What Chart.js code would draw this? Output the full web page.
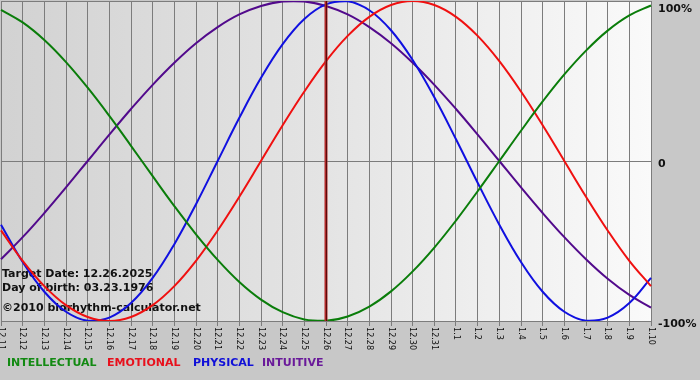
<!DOCTYPE html>
<html>
<head>
<meta charset="utf-8">
<script src="https://cdn.jsdelivr.net/npm/chart.js@4.4.1/dist/chart.umd.min.js"></script>
<style>
  html, body { margin: 0; padding: 0; background: #c8c8c8; }
  #wrap { width: 700px; height: 380px; }
</style>
</head>
<body>
<div id="wrap"><canvas id="c" width="700" height="380"></canvas></div>
<script>
// ---- data ----
const dayLabels = ['12.11','12.12','12.13','12.14','12.15','12.16','12.17','12.18','12.19','12.20','12.21','12.22','12.23','12.24','12.25','12.26','12.27','12.28','12.29','12.30','12.31','1.1','1.2','1.3','1.4','1.5','1.6','1.7','1.8','1.9','1.10'];
const intellectual = [94.5, 86.6, 75.6, 61.8, 45.8, 28.2, 9.5, -9.5, -28.2, -45.8, -61.8, -75.6, -86.6, -94.5, -99.0, -99.9, -97.2, -91.0, -81.5, -69.0, -54.1, -37.2, -18.9, 0, 18.9, 37.2, 54.1, 69.0, 81.5, 91.0, 97.2];
const emotional = [-43.4, -62.4, -78.2, -90.1, -97.5, -100, -97.5, -90.1, -78.2, -62.4, -43.4, -22.3, 0, 22.3, 43.4, 62.4, 78.2, 90.1, 97.5, 100, 97.5, 90.1, 78.2, 62.4, 43.4, 22.3, 0, -22.3, -43.4, -62.4, -78.2];
const physical = [-39.8, -63.1, -81.7, -94.2, -99.8, -97.9, -88.8, -73.1, -52.0, -27.0, 0, 27.0, 52.0, 73.1, 88.8, 97.9, 99.8, 94.2, 81.7, 63.1, 39.8, 13.6, -13.6, -39.8, -63.1, -81.7, -94.2, -99.8, -97.9, -88.8, -73.1];
const intuitive = [-61.4, -47.6, -32.5, -16.5, 0, 16.5, 32.5, 47.6, 61.4, 73.6, 83.7, 91.6, 96.9, 99.7, 99.7, 96.9, 91.6, 83.7, 73.6, 61.4, 47.6, 32.5, 16.5, 0, -16.5, -32.5, -47.6, -61.4, -73.6, -83.7, -91.6];
const seriesNames = ['INTELLECTUAL', 'EMOTIONAL', 'PHYSICAL', 'INTUITIVE'];
const yTickValues = [100, 0, -100];
const yTickLabels = ['100%', '0', '-100%'];
const targetIndex = 15; // 12.26
const infoLines = ['Target Date: 12.26.2025', 'Day of birth: 03.23.1976', '\u00a92010 biorhythm-calculator.net'];

// ---- styles ----
const lineColors = ['#0a7d0a', '#f01010', '#1010e0', '#520a8c'];
const legendColors = ['#138a13', '#e8101c', '#1010d8', '#6a1a9a'];
const gridColor = '#7c7c7c';

const bgPlugin = {
  id: 'bg',
  beforeDraw(chart) {
    const { ctx, chartArea: a, width, height } = chart;
    ctx.save();
    ctx.fillStyle = '#c8c8c8';
    ctx.fillRect(0, 0, width, height);
    const g = ctx.createLinearGradient(a.left, 0, a.right, 0);
    g.addColorStop(0, '#d2d2d2');
    g.addColorStop(0.5, '#e4e4e4');
    g.addColorStop(1, '#fafafa');
    ctx.fillStyle = g;
    ctx.fillRect(a.left, a.top, a.right - a.left, a.bottom - a.top);
    ctx.restore();
  },
  beforeDatasetsDraw(chart) {
    const { ctx } = chart;
    ctx.save();
    ctx.font = 'bold 11px "DejaVu Sans", Verdana, sans-serif';
    ctx.fillStyle = '#111';
    ctx.textBaseline = 'alphabetic';
    ctx.textAlign = 'left';
    const ys = [277, 291, 311];
    infoLines.forEach((t, i) => ctx.fillText(t, 2, ys[i]));
    ctx.restore();
  },
  afterDatasetsDraw(chart) {
    const { ctx, chartArea: a } = chart;
    const xs = chart.scales.x;
    const ysc = chart.scales.y;
    ctx.save();
    // target-date marker
    const tx = Math.round(xs.getPixelForValue(targetIndex));
    ctx.strokeStyle = '#b02828';
    ctx.lineWidth = 3;
    ctx.beginPath(); ctx.moveTo(tx, a.top); ctx.lineTo(tx, a.bottom); ctx.stroke();
    ctx.strokeStyle = '#5a0a0a';
    ctx.lineWidth = 1;
    ctx.beginPath(); ctx.moveTo(tx + 0.5, a.top); ctx.lineTo(tx + 0.5, a.bottom); ctx.stroke();

    // x tick labels (rotated clockwise)
    ctx.font = '9px "DejaVu Sans Condensed", "Liberation Sans", sans-serif';
    ctx.fillStyle = '#111';
    ctx.textAlign = 'left';
    ctx.textBaseline = 'middle';
    dayLabels.forEach((lab, i) => {
      const x = xs.getPixelForValue(i);
      ctx.save();
      ctx.translate(x, a.bottom + 6);
      ctx.rotate(Math.PI / 2);
      ctx.fillText(lab, 0, 0);
      ctx.restore();
    });

    // y labels on the right
    ctx.font = 'bold 11px "DejaVu Sans", Verdana, sans-serif';
    ctx.textBaseline = 'alphabetic';
    yTickValues.forEach((v, i) => {
      const y = Math.max(ysc.getPixelForValue(v) + 6, 12);
      ctx.fillText(yTickLabels[i], a.right + 7, y);
    });

    // legend
    const lx = [7, 107, 193, 262];
    seriesNames.forEach((n, i) => {
      ctx.fillStyle = legendColors[i];
      ctx.fillText(n, lx[i], 366);
    });
    ctx.restore();
  }
};

const series = [intellectual, emotional, physical, intuitive];
new Chart(document.getElementById('c'), {
  type: 'line',
  data: {
    labels: dayLabels,
    datasets: series.map((d, i) => ({
      label: seriesNames[i],
      data: d,
      borderColor: lineColors[i],
      borderWidth: 2,
      pointRadius: 0,
      tension: 0.4,
      fill: false
    }))
  },
  options: {
    responsive: false,
    animation: false,
    events: [],
    layout: { padding: { left: 1, top: 1, right: 0, bottom: 0 } },
    plugins: { legend: { display: false }, tooltip: { enabled: false } },
    scales: {
      x: {
        type: 'category',
        offset: false,
        grid: { color: gridColor, lineWidth: 1, drawTicks: true, tickLength: 5, tickColor: gridColor },
        border: { color: gridColor },
        ticks: { display: false, autoSkip: false },
        afterFit(s) { s.height = 59; }
      },
      y: {
        position: 'right',
        min: -100,
        max: 100,
        afterBuildTicks(s) { s.ticks = yTickValues.map(v => ({ value: v })); },
        grid: { color: gridColor, lineWidth: 1, drawTicks: false },
        border: { color: gridColor },
        ticks: { display: false },
        afterFit(s) { s.width = 49; }
      }
    }
  },
  plugins: [bgPlugin]
});
</script>
</body>
</html>
